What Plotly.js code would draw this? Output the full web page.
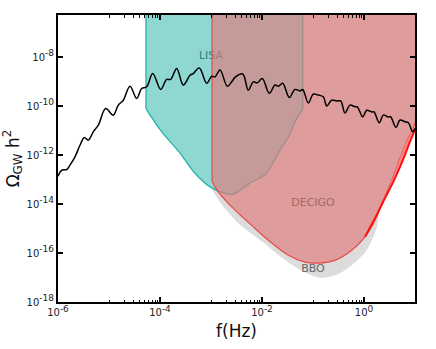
<!DOCTYPE html>
<html>
<head>
<meta charset="utf-8">
<script src="https://cdn.plot.ly/plotly-3.0.1.min.js"></script>
<style>
  body { margin: 0; background: #fff; }
  #chart { width: 436px; height: 349px; }
</style>
</head>
<body>
<div id="chart"></div>
<script>
// values are log10 of f (Hz) and of Omega_GW h^2

// black spectrum curve
const curveLogF = [-6.000, -5.927, -5.829, -5.765, -5.667, -5.569, -5.484, -5.406, -5.308, -5.210,
  -5.065, -4.916, -4.818, -4.720, -4.588, -4.457, -4.359, -4.261, -4.143, -3.986,
  -3.869, -3.790, -3.673, -3.543, -3.412, -3.347, -3.229, -3.084, -2.986, -2.922,
  -2.824, -2.680, -2.594, -2.529, -2.378, -2.269, -2.171, -2.092, -1.994, -1.857,
  -1.745, -1.680, -1.594, -1.465, -1.353, -1.255, -1.202, -1.092, -0.994, -0.896,
  -0.798, -0.731, -0.633, -0.535, -0.457, -0.373, -0.275, -0.176, -0.131, -0.025,
  0.053, 0.151, 0.196, 0.300, 0.378, 0.476, 0.524, 0.627, 0.706, 0.804,
  0.869, 0.955, 1.000];
const curveLogOmega = [-12.86, -12.62, -12.59, -12.41, -12.07, -11.60, -11.28, -11.39, -11.05, -10.78,
  -10.10, -10.37, -9.96, -9.76, -9.19, -9.69, -9.28, -9.21, -8.67, -9.32,
  -8.91, -8.91, -8.46, -9.14, -8.74, -8.67, -8.44, -9.07, -8.78, -8.81,
  -8.53, -9.19, -9.01, -8.83, -8.69, -9.35, -9.01, -9.05, -8.87, -9.48,
  -9.14, -9.19, -9.07, -9.65, -9.32, -9.38, -9.32, -9.87, -9.51, -9.55,
  -9.62, -10.00, -9.76, -9.79, -9.79, -10.28, -9.96, -10.03, -10.03, -10.44,
  -10.17, -10.24, -10.24, -10.68, -10.37, -10.44, -10.44, -10.87, -10.57, -10.64,
  -10.68, -11.05, -10.91];

// LISA sensitivity region
const lisaLogF = [-4.275, -4.275, -4.275, -4.12, -3.941, -3.608, -3.333, -2.980, -2.588, -2.235,
  -1.920, -1.647, -1.484, -1.320, -1.202, -1.202, -1.202];
const lisaLogOmega = [-5.5, -9.9, -10.08, -10.60, -11.11, -11.92, -12.70, -13.35, -13.60, -13.15,
  -12.75, -11.80, -11.26, -10.51, -10.10, -9.9, -5.5];

// DECIGO sensitivity region
const decigoLogF = [-2.98, -2.98, -2.98, -2.857, -2.529, -2.202, -1.876, -1.484, -1.157, -0.896,
  -0.569, -0.241, 0.020, 0.216, 0.347, 0.510, 0.706, 0.869, 0.967, 1.2, 1.2];
const decigoLogOmega = [-5.5, -12.9, -13.03, -13.50, -14.25, -14.87, -15.48, -16.09, -16.37, -16.41,
  -16.30, -15.89, -15.34, -14.66, -13.98, -13.22, -12.13, -11.31, -10.90, -9.0, -5.5];

// bright red edge on the right of DECIGO
const edgeLogF = [0.020, 0.216, 0.412, 0.608, 0.804, 0.902, 0.986, 1.1];
const edgeLogOmega = [-15.34, -14.58, -13.76, -12.94, -11.99, -11.45, -11.04, -10.5];

// BBO sensitivity region
const bboLogF = [-2.98, -2.98, -2.922, -2.790, -2.465, -2.006, -1.614, -1.222, -0.829, -0.504,
  -0.241, 0.025, 0.155, 0.253, 0.347, 0.510, 0.706, 0.869, 0.967, 1.2, 1.2];
const bboLogOmega = [-5.5, -13.35, -13.60, -14.02, -14.78, -15.52, -16.18, -16.72, -17.02, -16.86,
  -16.50, -15.96, -15.48, -14.94, -13.98, -13.22, -12.13, -11.31, -10.90, -9.0, -5.5];

// region labels
const labelNames = ['LISA', 'DECIGO', 'BBO'];
const labelLogF = [-3.0, -1.0, -1.0];
const labelLogOmega = [-7.96, -13.98, -16.68];

// tick exponents
const xTickExp = [-6, -4, -2, 0];
const yTickExp = [-18, -16, -14, -12, -10, -8];
const xMinorExp = [-5, -3, -1];

const pow10 = a => a.map(v => Math.pow(10, v));
const font = 'DejaVu Sans, Verdana, sans-serif';
const tickText = e => '10<sup><span style="font-size:9px">' + e + '</span></sup>';

// light red sliver between DECIGO edge and the red line
const sliverLogF = decigoLogF.slice(12, 19).concat(edgeLogF.slice().reverse());
const sliverLogOmega = decigoLogOmega.slice(12, 19).concat(edgeLogOmega.slice().reverse());

const traces = [
  { x: pow10(bboLogF), y: pow10(bboLogOmega), mode: 'lines', fill: 'toself',
    fillcolor: '#dcdcdc', line: { width: 0, shape: 'spline', smoothing: 0.8 }, hoverinfo: 'skip' },
  { x: pow10(lisaLogF), y: pow10(lisaLogOmega), mode: 'lines', fill: 'toself',
    fillcolor: '#8fd8d2', line: { color: '#26b3a8', width: 1.3, shape: 'spline', smoothing: 0.8 },
    hoverinfo: 'skip' },
  { x: [Math.pow(10, labelLogF[0])], y: [Math.pow(10, labelLogOmega[0])], mode: 'text',
    text: [labelNames[0]], textfont: { family: font, size: 11, color: '#2f7e78' }, hoverinfo: 'skip' },
  { x: pow10(decigoLogF), y: pow10(decigoLogOmega), mode: 'lines', fill: 'toself',
    fillcolor: 'rgba(223,123,123,0.66)', line: { color: '#e84a48', width: 1.2, shape: 'spline', smoothing: 0.8 },
    hoverinfo: 'skip' },
  { x: pow10(sliverLogF), y: pow10(sliverLogOmega), mode: 'lines', fill: 'toself',
    fillcolor: '#ff8484', line: { width: 0, shape: 'spline', smoothing: 0.8 }, hoverinfo: 'skip' },
  { x: pow10(edgeLogF), y: pow10(edgeLogOmega), mode: 'lines',
    line: { color: '#ff1010', width: 2, shape: 'spline' }, hoverinfo: 'skip' },
  { x: pow10(labelLogF.slice(1)), y: pow10(labelLogOmega.slice(1)), mode: 'text',
    text: labelNames.slice(1), textfont: { family: font, size: 11, color: ['#a46666', '#666666'] },
    hoverinfo: 'skip' },
  { x: pow10(curveLogF), y: pow10(curveLogOmega), mode: 'lines',
    line: { color: '#000', width: 1.5, shape: 'spline', smoothing: 1 }, hoverinfo: 'skip' }
];

const minorVals = [];
xMinorExp.forEach(e => { for (let k = 1; k <= 9; k++) minorVals.push(k * Math.pow(10, e)); });

const layout = {
  width: 436, height: 349,
  margin: { l: 58, r: 21, t: 15, b: 47 },
  paper_bgcolor: '#fff', plot_bgcolor: '#fff',
  showlegend: false,
  font: { family: font, size: 10, color: '#222' },
  xaxis: {
    type: 'log', range: [-6, 1], showgrid: false, zeroline: false,
    showline: true, linecolor: '#000', linewidth: 2, mirror: 'ticks',
    ticks: 'inside', ticklen: 5, tickwidth: 1.3, tickcolor: '#000',
    tickvals: pow10(xTickExp), ticktext: xTickExp.map(tickText),
    tickfont: { family: font, size: 10, color: '#222' },
    minor: { tickvals: minorVals, ticks: 'inside', ticklen: 2.5, tickwidth: 1, tickcolor: '#000', showgrid: false },
    title: { text: 'f(Hz)', font: { family: font, size: 17, color: '#111' }, standoff: 8 },
    automargin: false
  },
  yaxis: {
    type: 'log', range: [-18, -6.28], showgrid: false, zeroline: false,
    showline: true, linecolor: '#000', linewidth: 2, mirror: 'ticks',
    ticks: 'inside', ticklen: 5, tickwidth: 1.3, tickcolor: '#000',
    tickvals: pow10(yTickExp), ticktext: yTickExp.map(tickText),
    tickfont: { family: font, size: 10, color: '#222' },
    title: { text: 'Ω<sub>GW</sub> h<sup>2</sup>', font: { family: font, size: 17, color: '#111' }, standoff: 3 },
    automargin: false
  }
};

Plotly.newPlot('chart', traces, layout, { displayModeBar: false, staticPlot: true });
</script>
</body>
</html>
